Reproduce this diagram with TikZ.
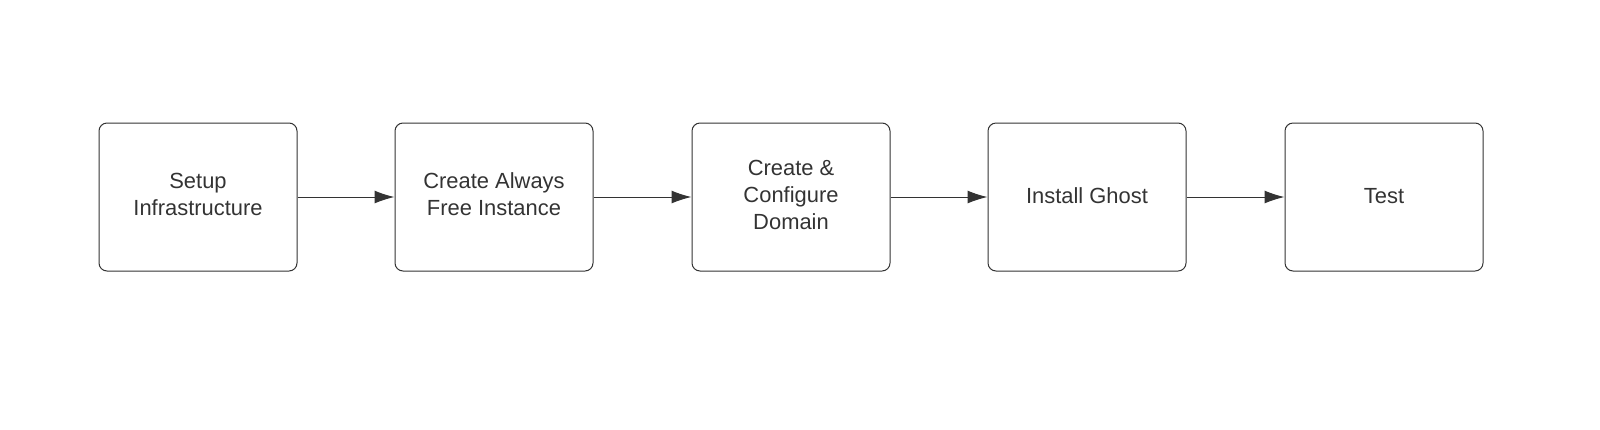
\documentclass[tikz,border=0pt]{standalone}
\usepackage{fontspec}
\setmainfont{Liberation Sans}
\usetikzlibrary{arrows.meta}
\definecolor{ink}{HTML}{333333}
\begin{document}
\begin{tikzpicture}[x=1bp,y=-1bp,
  box/.style={draw=ink,line width=1bp,rounded corners=8bp,minimum width=198bp,minimum height=148bp,align=center,text=ink,font=\fontsize{22}{27}\selectfont,inner sep=0pt},
  arr/.style={draw=ink,line width=1bp,-{Latex[length=20bp,width=13bp]}}]
\useasboundingbox (0,0) rectangle (1600,429);
\node[box] (a) at (198,197) {\raisebox{3pt}{\begin{tabular}{c}Setup\\Infrastructure\end{tabular}}};
\node[box] (b) at (494,197) {\raisebox{3pt}{\begin{tabular}{c}Create Always\\Free Instance\end{tabular}}};
\node[box] (c) at (791,197) {\raisebox{3pt}{\begin{tabular}{c}Create \&\\Configure\\Domain\end{tabular}}};
\node[box] (d) at (1087,197) {\raisebox{3pt}{Install Ghost}};
\node[box] (e) at (1384,197) {\raisebox{3pt}{Test}};
\draw[arr] (a) -- (b);
\draw[arr] (b) -- (c);
\draw[arr] (c) -- (d);
\draw[arr] (d) -- (e);
\end{tikzpicture}
\end{document}
